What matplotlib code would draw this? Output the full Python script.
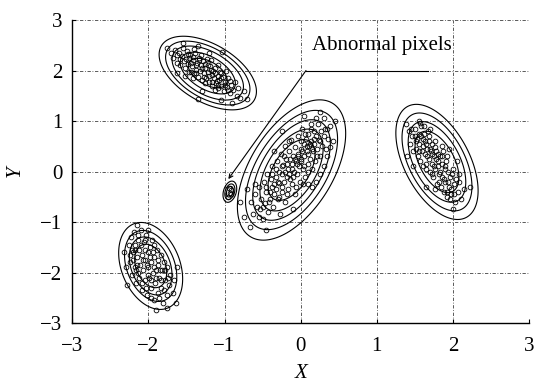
import matplotlib
matplotlib.use("Agg")
import matplotlib.pyplot as plt
import numpy as np

plt.rcParams['font.family'] = ['Liberation Serif', 'DejaVu Serif']

# cluster samples
upper_left = [
    (-1.68, 2.25), (-1.65, 2.40), (-1.62, 2.15), (-1.60, 2.35), (-1.58, 2.10), (-1.56, 2.28),
    (-1.55, 2.45), (-1.52, 2.05), (-1.50, 2.22), (-1.49, 2.38), (-1.48, 2.12), (-1.46, 1.98),
    (-1.45, 2.30), (-1.43, 2.08), (-1.42, 2.20), (-1.40, 1.95), (-1.39, 2.35), (-1.38, 2.02),
    (-1.36, 2.15), (-1.35, 1.88), (-1.33, 2.25), (-1.32, 2.00), (-1.31, 2.10), (-1.30, 1.82),
    (-1.28, 2.18), (-1.27, 1.95), (-1.25, 2.05), (-1.24, 1.85), (-1.23, 2.22), (-1.22, 1.98),
    (-1.20, 1.78), (-1.19, 2.08), (-1.17, 1.92), (-1.16, 1.70), (-1.15, 2.00), (-1.14, 1.85),
    (-1.12, 2.05), (-1.11, 1.75), (-1.09, 1.90), (-1.08, 1.65), (-1.07, 1.82), (-1.06, 1.98),
    (-1.04, 1.70), (-1.02, 1.88), (-1.01, 1.60), (-0.99, 1.78), (-0.97, 1.68), (-0.95, 1.85),
    (-0.93, 1.55), (-0.91, 1.72), (-0.89, 1.62), (-0.86, 1.78), (-0.84, 1.50), (-0.82, 1.65),
    (-1.75, 2.45), (-1.55, 2.55), (-1.35, 2.48), (-1.20, 2.35), (-0.98, 2.00), (-0.80, 1.45),
    (-1.05, 1.42), (-1.30, 1.60), (-1.62, 1.95), (-0.90, 1.35), (-1.03, 2.36), (-0.70, 1.43),
    (-1.35, 1.43), (-0.75, 1.60), (-1.47, 2.25), (-1.44, 2.15), (-1.41, 2.27), (-1.37, 2.10),
    (-1.34, 2.20), (-1.29, 2.05), (-1.26, 2.12), (-1.21, 1.90), (-1.18, 2.02), (-1.13, 1.95),
    (-1.10, 1.80), (-1.05, 1.85), (-1.00, 1.72), (-1.53, 2.18), (-1.59, 2.22), (-1.44, 1.98),
    (-1.37, 1.95), (-1.27, 1.88), (-1.16, 1.78), (-1.09, 2.10), (-1.31, 2.30), (-1.22, 2.10),
    (-1.48, 2.32), (-1.40, 2.42), (-0.96, 1.62), (-1.13, 1.62), (-1.25, 1.75), (-1.63, 2.30),
    (-1.70, 2.35), (-1.05, 1.95), (-0.93, 1.80), (-1.52, 1.90), (-1.42, 1.85), (-1.18, 2.20),
    (-1.08, 1.72),
]
central = [
    (-0.62, -0.85), (-0.60, -0.45), (-0.58, -0.70), (-0.55, -0.30), (-0.54, -0.75), (-0.52, -0.55),
    (-0.50, -0.95), (-0.48, -0.20), (-0.47, -0.62), (-0.45, -0.40), (-0.44, -0.05), (-0.43, -0.80),
    (-0.40, -0.55), (-0.39, -0.15), (-0.38, -0.30), (-0.37, 0.10), (-0.36, -0.70), (-0.35, -0.45),
    (-0.33, -0.10), (-0.32, -0.35), (-0.31, 0.20), (-0.30, -0.55), (-0.29, 0.00), (-0.28, -0.22),
    (-0.27, -0.85), (-0.26, 0.35), (-0.25, -0.05), (-0.24, -0.40), (-0.23, 0.12), (-0.22, -0.20),
    (-0.21, 0.50), (-0.20, -0.60), (-0.19, 0.25), (-0.18, -0.10), (-0.17, 0.05), (-0.16, -0.35),
    (-0.15, 0.40), (-0.14, -0.15), (-0.13, 0.62), (-0.12, 0.15), (-0.11, -0.25), (-0.10, 0.30),
    (-0.09, 0.00), (-0.08, -0.45), (-0.07, 0.48), (-0.06, 0.20), (-0.05, -0.05), (-0.04, 0.35),
    (-0.03, 0.70), (-0.02, 0.10), (-0.01, -0.20), (0.00, 0.45), (0.01, 0.25), (0.02, 0.85),
    (0.03, 0.05), (0.04, 0.55), (0.05, 0.30), (0.06, -0.10), (0.07, 0.65), (0.08, 0.40),
    (0.09, 0.15), (0.10, 0.75), (0.11, 0.50), (0.12, 0.25), (0.13, 0.95), (0.14, 0.60),
    (0.15, 0.05), (0.16, 0.40), (0.17, 0.80), (0.18, 0.55), (0.19, 0.20), (0.20, 0.70),
    (0.22, 0.45), (0.23, 0.95), (0.24, 0.62), (0.26, 0.30), (0.27, 0.80), (0.28, 0.50),
    (0.30, 0.70), (0.31, 1.05), (0.33, 0.45), (0.34, 0.85), (0.36, 0.65), (0.38, 0.90),
    (-0.75, -0.90), (-0.70, -0.35), (-0.66, -1.10), (0.42, 0.60), (0.25, 1.17), (0.05, 1.10),
    (-0.35, 0.40), (0.30, 0.10), (-0.10, -0.75), (-0.45, -1.15), (0.15, -0.30), (-0.25, 0.80),
    (0.45, 1.00), (-0.80, -0.60), (0.20, -0.20), (0.25, -0.05), (0.10, -0.25), (0.39, 0.48),
    (-0.30, -0.20), (-0.25, -0.30), (-0.20, 0.00), (-0.18, 0.15), (-0.15, -0.05), (-0.12, 0.05),
    (-0.10, -0.10), (-0.08, 0.25), (-0.05, 0.15), (-0.03, 0.30), (0.00, 0.20), (0.02, 0.40),
    (0.05, 0.10), (0.08, 0.50), (0.10, 0.35), (0.12, 0.55), (0.15, 0.45), (0.18, 0.65),
    (-0.35, -0.25), (-0.40, -0.40), (-0.42, -0.60), (-0.28, -0.50), (-0.22, 0.30), (-0.14, 0.25),
    (-0.06, -0.30), (0.00, 0.60), (0.06, 0.75), (0.14, 0.85), (-0.32, 0.05), (-0.46, -0.30),
    (-0.50, -0.70), (-0.55, -0.90), (0.21, 0.30), (0.26, 0.60), (0.32, 0.85), (-0.18, -0.45),
    (-0.24, 0.10), (-0.38, -0.05), (0.03, -0.25), (-0.15, 0.60), (0.09, 0.00), (0.20, 1.05),
    (-0.60, -0.25), (-0.65, -0.60), (0.35, 0.30),
]
right = [
    (1.42, 0.80), (1.44, 0.55), (1.46, 0.70), (1.47, 0.40), (1.50, 0.85), (1.51, 0.45),
    (1.53, 0.65), (1.54, 0.30), (1.55, 0.75), (1.56, 0.55), (1.57, 0.20), (1.58, 0.90),
    (1.59, 0.40), (1.60, 0.65), (1.61, 0.10), (1.62, 0.75), (1.63, 0.35), (1.64, 0.55),
    (1.65, 0.05), (1.66, 0.45), (1.67, 0.80), (1.68, 0.25), (1.69, 0.60), (1.70, 0.00),
    (1.71, 0.40), (1.72, 0.15), (1.73, 0.55), (1.74, -0.10), (1.75, 0.30), (1.76, 0.48),
    (1.77, 0.05), (1.78, 0.25), (1.79, -0.25), (1.80, 0.35), (1.81, 0.10), (1.82, -0.05),
    (1.83, 0.30), (1.84, -0.30), (1.85, 0.15), (1.86, -0.10), (1.87, 0.40), (1.88, -0.40),
    (1.89, 0.05), (1.90, -0.20), (1.91, 0.20), (1.92, -0.50), (1.94, 0.00), (1.95, -0.30),
    (1.96, -0.10), (1.98, -0.45), (2.00, 0.05), (2.01, -0.25), (2.03, -0.60), (2.04, -0.15),
    (2.06, -0.40), (2.08, -0.20), (2.10, -0.55), (1.38, 0.95), (1.40, 0.30), (1.55, 1.00),
    (1.70, 0.85), (2.15, -0.35), (1.95, 0.45), (2.00, -0.75), (1.65, -0.30), (2.05, 0.20),
    (1.48, 0.10), (2.22, -0.30), (1.96, -0.55), (1.57, 0.97), (1.60, 0.50), (1.63, 0.60),
    (1.66, 0.30), (1.70, 0.45), (1.72, 0.35), (1.75, 0.10), (1.78, 0.40), (1.80, 0.20),
    (1.83, 0.00), (1.85, 0.30), (1.88, -0.15), (1.90, 0.10), (1.93, -0.20), (1.97, -0.35),
    (1.52, 0.60), (1.55, 0.40), (1.58, 0.70), (1.68, 0.70), (1.73, -0.05), (1.77, 0.60),
    (1.82, -0.20), (1.86, 0.50), (1.92, -0.40), (2.02, -0.45), (1.50, 0.70), (1.45, 0.85),
    (1.62, 0.90), (1.76, -0.35), (1.99, -0.05), (2.08, -0.05), (1.64, 0.15), (1.92, 0.30),
]
lower_left = [
    (-2.26, -1.45), (-2.24, -1.80), (-2.23, -1.30), (-2.22, -2.05), (-2.20, -1.60), (-2.19, -1.20),
    (-2.18, -1.90), (-2.17, -1.45), (-2.16, -2.20), (-2.15, -1.70), (-2.14, -1.35), (-2.13, -2.00),
    (-2.12, -1.55), (-2.11, -1.85), (-2.10, -1.15), (-2.09, -2.35), (-2.08, -1.65), (-2.07, -1.95),
    (-2.06, -1.40), (-2.05, -2.15), (-2.04, -1.75), (-2.03, -1.25), (-2.02, -2.45), (-2.01, -1.60),
    (-2.00, -1.90), (-1.99, -2.10), (-1.98, -1.50), (-1.97, -2.30), (-1.96, -1.80), (-1.95, -1.35),
    (-1.94, -2.00), (-1.93, -2.55), (-1.92, -1.70), (-1.91, -2.20), (-1.90, -1.95), (-1.89, -1.55),
    (-1.88, -2.40), (-1.87, -1.85), (-1.86, -2.10), (-1.84, -1.65), (-1.83, -2.30), (-1.82, -1.95),
    (-1.81, -2.60), (-1.80, -1.80), (-1.78, -2.15), (-1.76, -2.45), (-1.75, -1.90), (-1.73, -2.25),
    (-1.71, -2.05), (-1.68, -2.40), (-1.66, -2.15), (-1.64, -2.60), (-2.32, -1.60), (-2.30, -1.90),
    (-2.15, -1.05), (-2.00, -1.15), (-1.90, -2.75), (-1.75, -2.70), (-2.28, -2.25), (-1.62, -1.90),
    (-2.20, -1.75), (-2.18, -1.55), (-2.15, -1.85), (-2.12, -2.10), (-2.10, -1.45), (-2.07, -1.75),
    (-2.05, -1.55), (-2.02, -1.85), (-2.00, -2.05), (-1.98, -1.70), (-1.96, -2.15), (-1.94, -1.60),
    (-1.92, -1.90), (-1.90, -2.10), (-1.88, -1.75), (-1.85, -1.95), (-1.83, -2.15), (-1.80, -2.35),
    (-1.78, -1.95), (-2.22, -1.55), (-2.24, -1.65), (-2.13, -1.25), (-2.03, -2.30), (-1.97, -2.50),
    (-1.86, -2.50), (-1.74, -2.10), (-2.08, -2.20), (-2.16, -1.95), (-1.93, -1.45), (-2.05, -1.35),
]
abnormal = [(-0.94, -0.32), (-0.92, -0.45), (-0.95, -0.50), (-0.91, -0.36), (-0.93, -0.42)]

# contour model of each cluster: mean, sigma x / sigma y, correlation, contour radii
cluster_means = [(-1.22, 1.95), (-0.12, 0.03), (1.79, 0.19), (-1.97, -1.87), (-0.93, -0.40)]
cluster_sigmas = [(0.213, 0.243), (0.237, 0.463), (0.18, 0.38), (0.14, 0.287), (0.03, 0.07)]
cluster_rhos = [-0.5, 0.52, -0.5, -0.3, 0.3]
cluster_radii = [
    [1.2, 1.7, 2.2, 2.6, 3.0],
    [1.3, 1.75, 2.15, 2.55, 3.0],
    [1.6, 2.1, 2.55, 3.0],
    [1.5, 2.0, 2.45, 3.0],
    [1.5, 2.2, 3.0],
]

ticks = [-3, -2, -1, 0, 1, 2, 3]
note_text = "Abnormal pixels"
note_xy = (0.15, 2.4)
note_line = ([0.07, 1.67], [2.0, 2.0])
note_tip = (-0.95, -0.15)

fig, ax = plt.subplots(figsize=(5.35, 3.85), dpi=100)
fig.subplots_adjust(left=0.135, right=0.989, top=0.948, bottom=0.161)

gx, gy = np.meshgrid(np.linspace(-3, 3, 900), np.linspace(-3, 3, 900))
for (mx, my), (sx, sy), rho, radii in zip(cluster_means, cluster_sigmas, cluster_rhos, cluster_radii):
    u = (gx - mx) / sx
    v = (gy - my) / sy
    d = np.sqrt((u * u - 2 * rho * u * v + v * v) / (1 - rho * rho))
    ax.contour(gx, gy, d, levels=radii, colors='k', linewidths=0.8)

for pts in [upper_left, central, right, lower_left, abnormal]:
    xs = [p[0] for p in pts]
    ys = [p[1] for p in pts]
    ax.plot(xs, ys, 'o', ms=3.4, mfc='none', mec='k', mew=0.6, zorder=3)

ax.plot(note_line[0], note_line[1], color='k', lw=0.8)
ax.annotate("", xy=note_tip, xytext=(note_line[0][0], note_line[1][0]),
            arrowprops=dict(arrowstyle='->', lw=0.8, color='k', mutation_scale=7,
                            shrinkA=0, shrinkB=0))
ax.text(note_xy[0], note_xy[1], note_text, fontsize=15, va='baseline', ha='left')

ax.set_xlim(-3, 3)
ax.set_ylim(-3, 3)
ax.set_xticks(ticks)
ax.set_yticks(ticks)
ax.tick_params(direction='in', length=3, labelsize=15, width=0.8)
ax.tick_params(axis='x', pad=10)
ax.tick_params(axis='y', pad=7)
ax.grid(True, color='0.25', lw=0.6, linestyle=(0, (4, 2, 1, 2)))
ax.spines['top'].set_visible(False)
ax.spines['right'].set_visible(False)
ax.spines['left'].set_linewidth(1.0)
ax.spines['bottom'].set_linewidth(1.0)
ax.set_xlabel("X", fontsize=15, style='italic', labelpad=6)
ax.set_ylabel("Y", fontsize=15, style='italic', labelpad=11)

fig.savefig("out.png", dpi=100)
